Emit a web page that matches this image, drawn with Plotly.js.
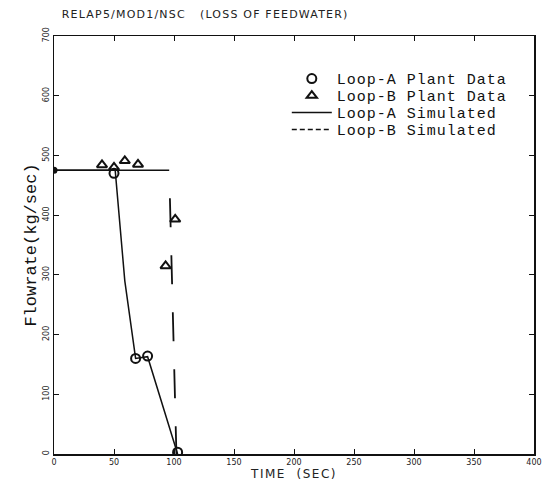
<!DOCTYPE html>
<html>
<head>
<meta charset="utf-8">
<script src="https://cdn.plot.ly/plotly-3.0.1.min.js"></script>
<style>
html,body{margin:0;padding:0;background:#fff;}
#chart{width:542px;height:481px;}
#chart .gtitle{letter-spacing:1.2px;}
#chart .xtitle{letter-spacing:1.5px;}
#chart .legendtext{letter-spacing:1px;}
</style>
</head>
<body>
<div id="chart"></div>
<script>
// ---- data ----
var loopAPlantTime = [50, 68, 78, 103];
var loopAPlantFlow = [470, 160, 164, 3];

var loopBPlantTime = [40, 50, 59, 70, 93, 101];
var loopBPlantFlow = [484, 480, 491, 485, 315, 393];

var loopASimTime = [0, 51, 59, 68, 78, 103];
var loopASimFlow = [475, 475, 290, 160, 163, 0];

var loopBSimTime = [0, 96, 102];
var loopBSimFlow = [475, 475, 0];

var initialTime = [0];
var initialFlow = [475];

var xTicks = [0, 50, 100, 150, 200, 250, 300, 350, 400];
var yTicks = [0, 100, 200, 300, 400, 500, 600, 700];

var names = ['Loop-A Plant Data', 'Loop-B Plant Data', 'Loop-A Simulated', 'Loop-B Simulated'];

var ink = '#111';

var traces = [
  {x: loopASimTime, y: loopASimFlow, mode: 'lines', line: {color: ink, width: 1.5},
   showlegend: false, hoverinfo: 'skip'},
  {x: loopBSimTime.slice(0, 2), y: loopBSimFlow.slice(0, 2), mode: 'lines',
   line: {color: ink, width: 1.5}, showlegend: false},
  {x: loopBSimTime.slice(1), y: loopBSimFlow.slice(1), mode: 'lines',
   line: {color: ink, width: 1.8, dash: '0px,28px,29px,0px'}, showlegend: false},
  {x: initialTime, y: initialFlow, mode: 'markers',
   marker: {symbol: 'circle', size: 7, color: ink}, showlegend: false},
  {x: loopAPlantTime, y: loopAPlantFlow, mode: 'markers', name: names[0],
   marker: {symbol: 'circle-open', size: 9, color: ink, line: {width: 2, color: ink}}},
  {x: loopBPlantTime, y: loopBPlantFlow, mode: 'markers', name: names[1],
   marker: {symbol: 'triangle-up-open', size: 9, color: ink, line: {width: 2, color: ink}}},
  {x: [null], y: [null], mode: 'lines', name: names[2], line: {color: ink, width: 1.5}},
  {x: [null], y: [null], mode: 'lines', name: names[3], line: {color: ink, width: 1.5, dash: '5px,3px'}}
];

var axisCommon = {
  showline: true, linecolor: ink, linewidth: 1.5, mirror: 'ticks',
  ticks: 'inside', ticklen: 5, tickwidth: 1, tickcolor: ink,
  showgrid: false, zeroline: false, automargin: false,
  tickfont: {family: 'DejaVu Sans', size: 8, color: '#222'}
};

var layout = {
  width: 542, height: 481,
  margin: {l: 54, r: 8, t: 36, b: 27},
  paper_bgcolor: '#fff', plot_bgcolor: '#fff',
  font: {family: 'Liberation Mono', color: ink},
  title: {
    text: 'RELAP5/MOD1/NSC   (LOSS OF FEEDWATER)',
    font: {family: 'DejaVu Sans', size: 11, color: '#222'},
    x: 0.114, xref: 'container', xanchor: 'left',
    y: 1 - 14 / 481, yref: 'container', yanchor: 'middle'
  },
  xaxis: Object.assign({}, axisCommon, {
    range: [0, 400], tickmode: 'array', tickvals: xTicks, ticktext: xTicks.map(String),
    title: {text: 'TIME  (SEC)', font: {family: 'DejaVu Sans', size: 12, color: '#222'}, standoff: 2}
  }),
  yaxis: Object.assign({}, axisCommon, {
    range: [0, 700], tickmode: 'array', tickvals: yTicks, ticktext: yTicks.map(String),
    tickangle: -90,
    title: {text: 'Flowrate(kg/sec)', font: {family: 'Liberation Mono', size: 17, color: ink}, standoff: 1}
  }),
  showlegend: true,
  legend: {
    x: 0.485, xanchor: 'left', xref: 'paper',
    y: 0.937, yanchor: 'top', yref: 'paper',
    bgcolor: 'rgba(0,0,0,0)', borderwidth: 0,
    font: {family: 'Liberation Mono', size: 15, color: ink},
    itemwidth: 40, tracegroupgap: 0
  }
};

Plotly.newPlot('chart', traces, layout, {staticPlot: true}).then(function (gd) {
  // let the letter-spaced legend text show fully
  gd.querySelectorAll('.legend [clip-path]').forEach(function (el) {
    el.removeAttribute('clip-path');
  });
  // tighten legend row spacing to match the reference
  var items = gd.querySelectorAll('.legend .traces');
  var step = 17;
  var base = null;
  items.forEach(function (el, i) {
    var t = el.getAttribute('transform') || '';
    var m = t.match(/translate\(([-\d.]+)[ ,]*([-\d.]+)?\)/);
    var x = m ? parseFloat(m[1]) : 0;
    var y = m && m[2] ? parseFloat(m[2]) : 0;
    if (base === null) base = y;
    el.setAttribute('transform', 'translate(' + x + ',' + (base + i * step) + ')');
  });
});
</script>
</body>
</html>
